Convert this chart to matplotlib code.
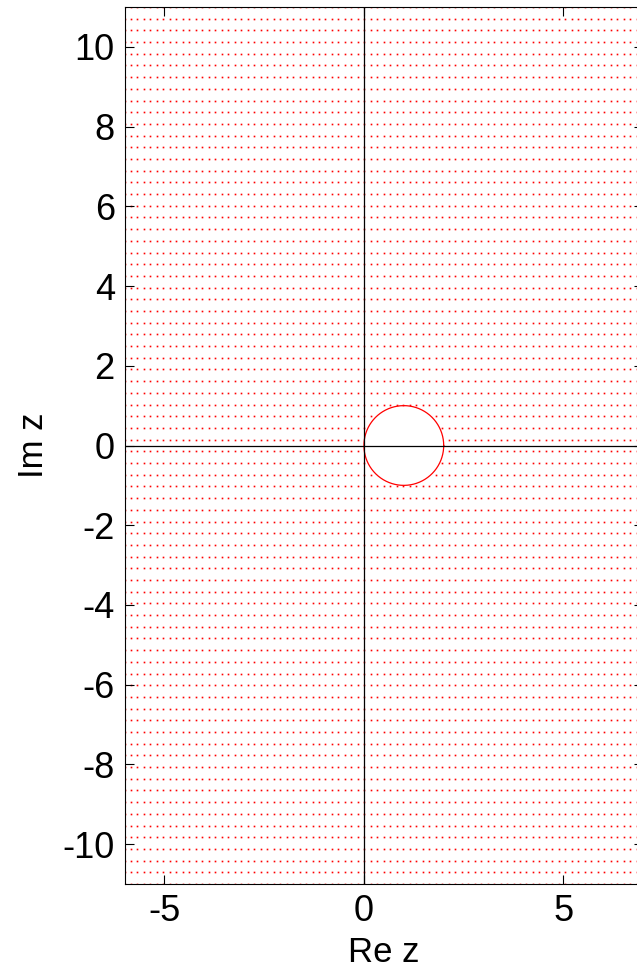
import matplotlib
matplotlib.use('Agg')
import matplotlib.pyplot as plt
import numpy as np

plt.rcParams['font.family'] = ['Liberation Sans', 'DejaVu Sans']
plt.rcParams['axes.unicode_minus'] = False

# sample grid over the complex plane
re_grid = np.linspace(-6, 7, 81)
im_grid = np.linspace(-11, 11, 76)

# boundary circle |z - 1| = 1
circle_center = (1.0, 0.0)
circle_radius = 1.0

x_ticks = [-5, 0, 5]
y_ticks = [-10, -8, -6, -4, -2, 0, 2, 4, 6, 8, 10]

X, Y = np.meshgrid(re_grid, im_grid)
outside = (X - circle_center[0]) ** 2 + (Y - circle_center[1]) ** 2 > circle_radius ** 2

fig = plt.figure(figsize=(6.37, 9.73), dpi=100)
ax = fig.add_axes([124.5 / 637, 89 / 973, 518.7 / 637, 877 / 973])

ax.plot(X[outside], Y[outside], linestyle='none', marker='s', markersize=1.2,
        markeredgewidth=0, color='red', zorder=1)

theta = np.linspace(0, 2 * np.pi, 400)
ax.plot(circle_center[0] + circle_radius * np.cos(theta),
        circle_center[1] + circle_radius * np.sin(theta), color='red', lw=0.9, zorder=2)

ax.axhline(0, color='black', lw=0.9, zorder=3)
ax.axvline(0, color='black', lw=0.9, zorder=3)

ax.set_xlim(-6, 7)
ax.set_ylim(-11, 11)
ax.set_xticks(x_ticks)
ax.set_yticks(y_ticks)
ax.tick_params(direction='in', length=6.5, width=0.8, labelsize=26, pad=7,
               top=True, right=True)
for s in ax.spines.values():
    s.set_linewidth(0.8)

ax.set_xlabel('Re z', fontsize=25, labelpad=5)
ax.set_ylabel('Im z', fontsize=25, labelpad=9)

fig.savefig('out.png', dpi=100)
